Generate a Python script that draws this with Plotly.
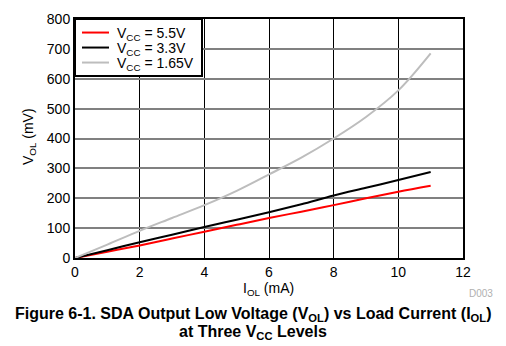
import plotly.graph_objects as go

x_vals = [0, 1, 2, 3, 4, 5, 6, 7, 8, 9, 10, 11]
vol_55 = [0, 21, 42, 65, 88, 111, 134, 155, 177, 200, 222, 242]
vol_33 = [0, 26, 53, 78, 104, 128, 153, 180, 209, 235, 261, 288]
vol_165 = [0, 45, 91, 134, 177, 225, 280, 336, 400, 472, 561, 685]

series = [
    ("V<sub>CC</sub> = 5.5V", vol_55, "#ff0000"),
    ("V<sub>CC</sub> = 3.3V", vol_33, "#000000"),
    ("V<sub>CC</sub> = 1.65V", vol_165, "#bdbdbd"),
]

W, H = 506, 346
ML, MR, MT, MB = 75, 43, 11, 88
pw, ph = W - ML - MR, H - MT - MB
def px(xp):
    return (xp - ML) / pw
def py(yp):
    return (H - MB - yp) / ph

fig = go.Figure()
for name, ys, color in series:
    fig.add_trace(go.Scatter(x=x_vals, y=ys, mode="lines", name=name, showlegend=False,
                             line=dict(color=color, width=2, shape="spline")))

font = "Liberation Sans, Arial, sans-serif"

shapes = []
annotations = []
# custom legend box
shapes.append(dict(type="rect", xref="paper", yref="paper",
                   x0=px(75), x1=px(202), y0=py(70), y1=py(11),
                   line=dict(color="black", width=2), fillcolor="white", layer="above"))
for i, (name, ys, color) in enumerate(series):
    yy = 25 + i * 15.5
    shapes.append(dict(type="line", xref="paper", yref="paper",
                       x0=px(82), x1=px(109), y0=py(yy), y1=py(yy),
                       line=dict(color=color, width=2), layer="above"))
    annotations.append(dict(text=name, x=px(115), y=py(yy + 1), xref="paper", yref="paper",
                            xanchor="left", yanchor="middle", showarrow=False,
                            font=dict(size=14)))

texts = [
    ("I<sub>OL</sub> (mA)", 268, 290, 14, "black", 0),
    ("V<sub>OL</sub> (mV)", 29, 133, 14, "black", -90),
    ("D003", 481, 295, 10, "#b0b0b0", 0),
    ("<b>Figure 6-1. SDA Output Low Voltage (V<sub>OL</sub>) vs Load Current (I<sub>OL</sub>)</b>", 253, 316, 16, "black", 0),
    ("<b>at Three V<sub>CC</sub> Levels</b>", 253, 335, 16, "black", 0),
]
for t, xp, yp, sz, col, ang in texts:
    annotations.append(dict(text=t, x=px(xp), y=py(yp), xref="paper", yref="paper",
                            xanchor="center", yanchor="middle", showarrow=False,
                            textangle=ang, font=dict(size=sz, color=col)))

fig.update_layout(
    width=W, height=H,
    margin=dict(l=ML, r=MR, t=MT, b=MB),
    plot_bgcolor="white", paper_bgcolor="white",
    font=dict(family=font, size=14, color="black"),
    showlegend=False,
    xaxis=dict(range=[0, 12], dtick=2, showgrid=True, gridcolor="black", gridwidth=1,
               showline=True, linecolor="black", linewidth=2, mirror=True,
               ticks="", zeroline=False, tickfont=dict(size=14)),
    yaxis=dict(range=[0, 800], dtick=100, showgrid=True, gridcolor="#808080", gridwidth=2,
               showline=True, linecolor="black", linewidth=2, mirror=True,
               ticks="", zeroline=False, tickfont=dict(size=14)),
    shapes=shapes,
    annotations=annotations,
)

fig.write_html("out.html")
